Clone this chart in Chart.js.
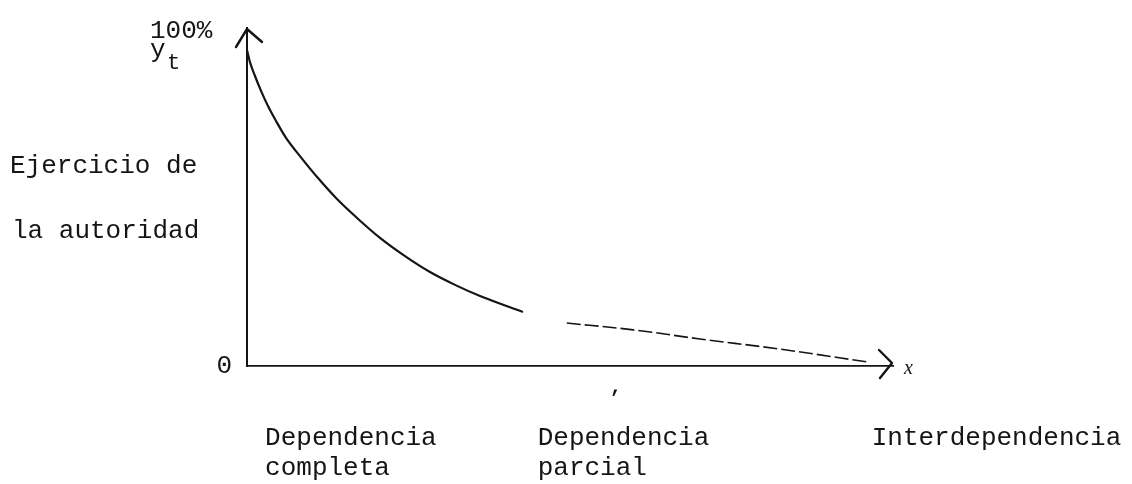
<!DOCTYPE html>
<html>
<head>
<meta charset="utf-8">
<script src="https://cdn.jsdelivr.net/npm/chart.js@4/dist/chart.umd.min.js"></script>
<style>
  html, body { margin: 0; padding: 0; background: #ffffff; }
  #wrap { width: 1132px; height: 484px; position: relative; }
</style>
</head>
<body>
<div id="wrap"><canvas id="c" width="1132" height="484"></canvas></div>
<script>
// ---- data ----
// main curve: "Ejercicio de la autoridad" (% of 100) along the dependency axis (0..100)
const curveX = [0, 0.46, 1.24, 2.17, 3.25, 4.49, 6.04, 8.20, 10.99, 13.93, 17.03, 20.59, 24.46, 28.33, 32.20, 36.07, 39.94, 42.72];
const curveY = [93.5, 89.9, 85.8, 81.4, 76.9, 72.5, 67.5, 62.1, 55.6, 49.4, 43.8, 37.9, 32.5, 27.8, 24.0, 20.7, 17.9, 16.0];
// faint tail of the curve after the break
const tailX = [49.5, 59.8, 70.1, 82.5, 96.0];
const tailY = [12.7, 10.7, 8.0, 5.0, 1.2];
// category labels under the x axis and where they start
const categories = [["Dependencia", "completa"], ["Dependencia", "parcial"], ["Interdependencia"]];
const categoryX = [2.8, 45.0, 96.7];
// y axis tick
const yTickValues = [0];
const yTickLabels = ["0"];
// free annotations
const yTitleLines = ["Ejercicio de", "la autoridad"];
const yTopLabel = "100%";
const yVarMain = "y";
const yVarSub = "t";
const xVarLabel = "x";

const INK = "#151515";
const MONO = '"Liberation Mono", "DejaVu Sans Mono", monospace';

const annot = {
  id: 'annot',
  afterDraw(chart) {
    const { ctx, scales: { x, y } } = chart;
    const x0 = x.getPixelForValue(0), y0 = y.getPixelForValue(0);
    const xt = x.getPixelForValue(100), yt = y.getPixelForValue(100);
    ctx.save();
    ctx.strokeStyle = INK;
    ctx.lineWidth = 2.4;
    ctx.lineCap = 'round';
    ctx.lineJoin = 'round';
    // arrow head on y axis
    ctx.beginPath();
    ctx.moveTo(x0 - 11, yt + 19);
    ctx.lineTo(x0, yt + 1);
    ctx.lineTo(x0 + 15, yt + 14);
    ctx.stroke();
    // arrow head on x axis
    ctx.beginPath();
    ctx.moveTo(xt - 14, y0 - 16);
    ctx.lineTo(xt - 1, y0 - 3);
    ctx.lineTo(xt - 13, y0 + 12);
    ctx.stroke();

    ctx.fillStyle = INK;
    ctx.textAlign = 'left';
    ctx.textBaseline = 'alphabetic';
    ctx.font = '26px ' + MONO;
    ctx.fillText(yTitleLines[0], 10, 173);
    ctx.fillText(yTitleLines[1], 12, 238);
    ctx.fillText(yTopLabel, x0 - 97, 38);
    ctx.fillText(yVarMain, x0 - 97, 57);
    ctx.font = '22px ' + MONO;
    ctx.fillText(yVarSub, x0 - 80, 69);
    ctx.font = 'italic 20px "Liberation Serif", serif';
    ctx.fillText(xVarLabel, xt + 11, y0 + 8);
    ctx.font = 'bold 20px ' + MONO;
    ctx.fillText(",", 610, 392);
    ctx.restore();
  }
};

new Chart(document.getElementById('c'), {
  type: 'line',
  data: {
    datasets: [
      {
        data: curveX.map((v, i) => ({ x: v, y: curveY[i] })),
        borderColor: INK,
        borderWidth: 2.2,
        pointRadius: 0,
        fill: false,
        cubicInterpolationMode: 'monotone'
      },
      {
        data: tailX.map((v, i) => ({ x: v, y: tailY[i] })),
        borderColor: INK,
        borderWidth: 1.6,
        borderDash: [14, 4],
        pointRadius: 0,
        fill: false,
        cubicInterpolationMode: 'monotone'
      }
    ]
  },
  options: {
    responsive: false,
    animation: false,
    events: [],
    layout: { padding: { left: 0, right: 239, top: 28, bottom: 0 } },
    plugins: { legend: { display: false }, tooltip: { enabled: false }, title: { display: false } },
    scales: {
      x: {
        type: 'linear',
        min: 0,
        max: 100,
        grid: { display: false, drawTicks: false },
        border: { display: true, color: INK, width: 1.8 },
        afterBuildTicks: (s) => { s.ticks = categoryX.map(v => ({ value: v })); },
        afterFit: (s) => { s.height = 118; s.paddingLeft = 0; s.paddingRight = 0; },
        ticks: {
          align: 'start',
          autoSkip: false,
          maxRotation: 0,
          minRotation: 0,
          padding: 57,
          color: INK,
          font: { family: MONO, size: 26, lineHeight: 1.15 },
          callback: (v, i) => categories[i]
        }
      },
      y: {
        type: 'linear',
        min: 0,
        max: 100,
        grid: { display: false, drawTicks: false },
        border: { display: true, color: INK, width: 2 },
        afterBuildTicks: (s) => { s.ticks = yTickValues.map(v => ({ value: v })); },
        afterFit: (s) => { s.width = 247; s.paddingTop = 0; s.paddingBottom = 0; },
        ticks: {
          padding: 15,
          color: INK,
          font: { family: MONO, size: 26 },
          callback: (v, i) => yTickLabels[i]
        }
      }
    }
  },
  plugins: [annot]
});
</script>
</body>
</html>
